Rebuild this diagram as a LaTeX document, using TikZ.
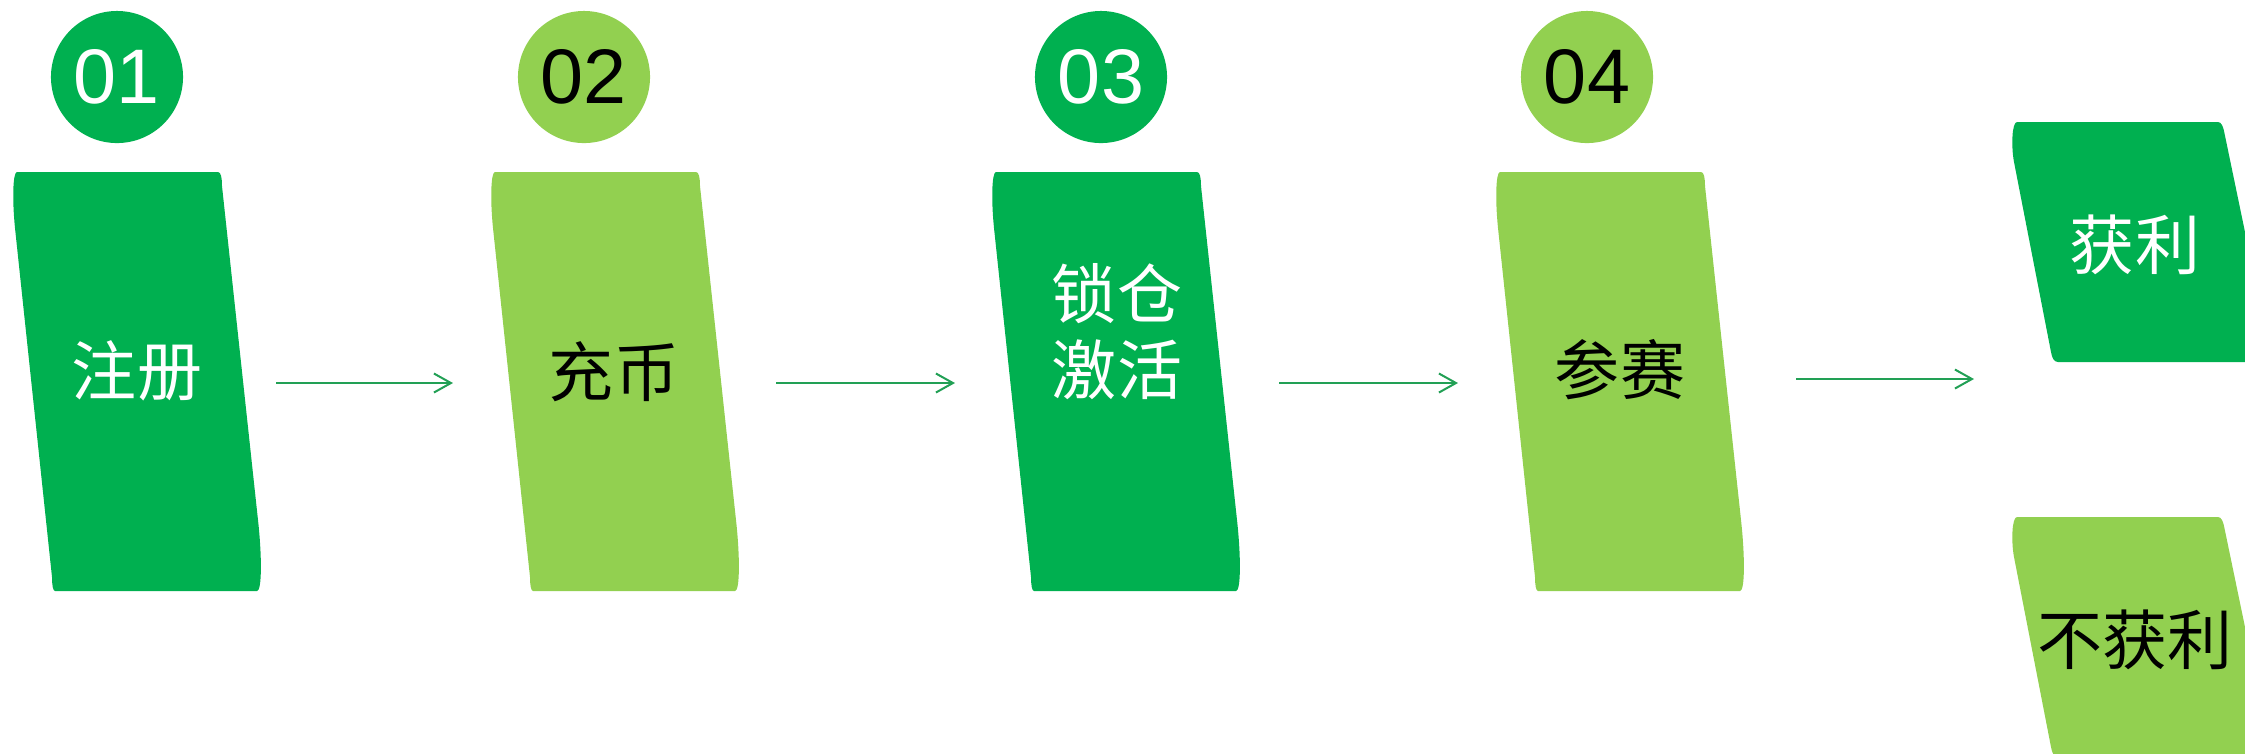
\documentclass[tikz,border=0pt]{standalone}
\usepackage{fontspec}
\setmainfont{Liberation Sans}
\newfontfamily\cjk{Noto Sans CJK SC}
\usetikzlibrary{arrows.meta}
\definecolor{darkgreen}{HTML}{00B050}
\definecolor{lightgreen}{HTML}{92D050}
\definecolor{arrowgreen}{HTML}{22A055}

\newcommand{\stepcard}[2]{%
\fill[#2,shift={(#1,0)}] (0,172) -- (201,172) .. controls (204,172) and (205,178) .. (205,186)
  -- (241,520) .. controls (245,556) and (245,591) .. (240,591) -- (38,591)
  .. controls (36,591) and (35,585) .. (35,577) -- (-2,228) .. controls (-5,198) and (-4,172) .. (0,172) -- cycle;}
\newcommand{\sidecard}[3]{%
\fill[#3,shift={(#1,#2)}] (0,0) -- (201,0) .. controls (204,0) and (206,4) .. (207,9)
  -- (255,240) -- (41,240) .. controls (37,240) and (35,236) .. (34,230)
  -- (-3,40) .. controls (-6,24) and (-5,0) .. (0,0) -- cycle;}

\begin{document}
\begin{tikzpicture}[x=0.01cm,y=-0.01cm,
  stepnum/.style={circle,inner sep=0pt,minimum size=1.32cm,font=\fontsize{22}{26}\selectfont},
  steptext/.style={align=center,inner sep=0pt,font=\cjk\fontsize{18.5}{21.6}\selectfont},
  steparrow/.style={arrowgreen,line width=0.02cm,-{Straight Barb[length=0.17cm,width=0.19cm]}}]
\useasboundingbox (0,0) rectangle (2245,753);

\node[stepnum,fill=darkgreen,text=white] (n1) at (117,77) {01};
\node[stepnum,fill=lightgreen] (n2) at (584,77) {02};
\node[stepnum,fill=darkgreen,text=white] (n3) at (1101,77) {03};
\node[stepnum,fill=lightgreen] (n4) at (1587,77) {04};

\stepcard{17}{darkgreen}
\stepcard{495}{lightgreen}
\stepcard{996}{darkgreen}
\stepcard{1500}{lightgreen}
\sidecard{2017}{122}{darkgreen}
\sidecard{2017}{517}{lightgreen}

\node[steptext,text=white] (reg) at (137,371) {注册};
\node[steptext] (dep) at (614,372) {充币};
\node[steptext,text=white] (lock) at (1117,332) {锁仓\\激活};
\node[steptext] (join) at (1620,370) {参赛};
\node[steptext,text=white] (win) at (2135,245) {获利};
\node[steptext] (lose) at (2135,640) {不获利};

\coordinate (a1) at (276,383);
\coordinate (b1) at (453,383);
\coordinate (a2) at (776,383);
\coordinate (b2) at (955,383);
\coordinate (a3) at (1279,383);
\coordinate (b3) at (1458,383);
\coordinate (a4) at (1796,379);
\coordinate (b4) at (1974,379);
\draw[steparrow] (a1) -- (b1);
\draw[steparrow] (a2) -- (b2);
\draw[steparrow] (a3) -- (b3);
\draw[steparrow] (a4) -- (b4);
\end{tikzpicture}
\end{document}
